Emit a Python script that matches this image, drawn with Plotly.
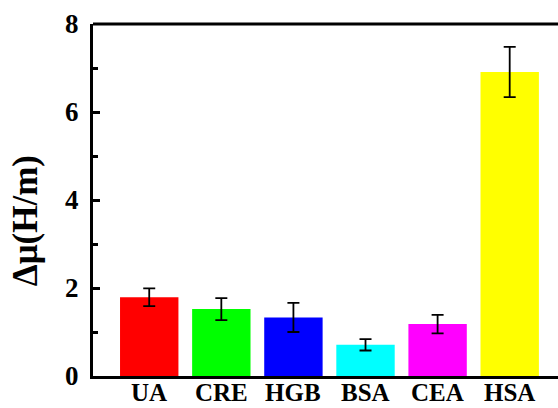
import plotly.graph_objects as go

categories = ["UA", "CRE", "HGB", "BSA", "CEA", "HSA"]
values = [1.79, 1.52, 1.33, 0.71, 1.18, 6.91]
errors = [0.20, 0.25, 0.33, 0.13, 0.21, 0.57]
colors = ["#FF0000", "#00FF00", "#0000FF", "#00FFFF", "#FF00FF", "#FFFF00"]
y_ticks = [0, 2, 4, 6, 8]

font_family = "Liberation Serif"

fig = go.Figure()
fig.add_trace(go.Bar(
    x=categories, y=values,
    marker=dict(color=colors, line=dict(width=0)),
    width=0.81,
    error_y=dict(type="data", array=errors, visible=True,
                 color="black", thickness=1.8, width=6),
))

# top frame line
fig.add_shape(type="line", xref="paper", yref="paper", x0=0, x1=1.05, y0=1, y1=1,
              line=dict(color="black", width=3))

# category labels placed under each bar
for cat in categories:
    fig.add_annotation(text=cat, x=cat, y=0, xref="x", yref="y",
                       yanchor="bottom", yshift=-32, showarrow=False,
                       font=dict(family=font_family, size=25, weight="bold", color="black"))

fig.add_annotation(text="Δμ(H/m)", xref="paper", yref="paper",
                   x=-0.146, y=0.44, xanchor="center", yanchor="middle",
                   textangle=-90, showarrow=False,
                   font=dict(family=font_family, size=35, weight="bold", color="black"))

fig.update_layout(
    template="none",
    width=558, height=408,
    margin=dict(l=93, r=0, t=24, b=32, autoexpand=False),
    plot_bgcolor="white", paper_bgcolor="white",
    showlegend=False,
    font=dict(family=font_family, color="black"),
    xaxis=dict(
        type="category",
        range=[-0.78, 5.67],
        showline=True, linecolor="black", linewidth=3, mirror=False,
        ticks="", showgrid=False, zeroline=False, automargin=False,
        showticklabels=False,
    ),
    yaxis=dict(
        range=[0, 8],
        tickvals=y_ticks,
        showline=True, linecolor="black", linewidth=3, mirror=False,
        ticks="inside", ticklen=7, tickwidth=3, tickcolor="black",
        minor=dict(dtick=1, ticks="inside", ticklen=5, tickwidth=3, tickcolor="black",
                   showgrid=False),
        showgrid=False, zeroline=False, automargin=False,
        ticklabelstandoff=6,
        tickfont=dict(family=font_family, size=27, weight="bold"),
    ),
)

fig.write_html("out.html")
